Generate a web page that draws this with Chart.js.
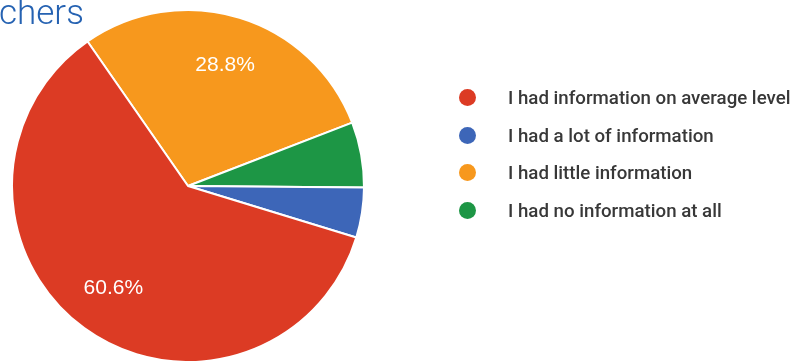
<!DOCTYPE html>
<html>
<head>
<meta charset="utf-8">
<script src="https://cdn.jsdelivr.net/npm/chart.js"></script>
<style>
  html, body { margin: 0; padding: 0; background: #fff; overflow: hidden; }
  #wrap { position: relative; width: 797px; height: 361px; }
  #pie { position: absolute; left: 0; top: 0; }
  #title {
    position: absolute; left: -1px; top: -7px;
    font-family: Roboto, "Open Sans", sans-serif; font-weight: 300;
    font-size: 35px; line-height: 40px; color: #2562b2;
  }
  #legend {
    position: absolute; left: 459px; top: 87px;
    list-style: none; margin: 0; padding: 0;
    font-family: Roboto, "Noto Sans", sans-serif; font-size: 18.7px; font-weight: 500; color: #383838;
  }
  #legend li { height: 37.5px; line-height: 22px; display: flex; align-items: flex-start; white-space: nowrap; }
  #legend .dot { width: 17px; height: 17px; border-radius: 50%; margin: 2px 32px 0 0; flex: none; }
</style>
</head>
<body>
<div id="wrap">
  <canvas id="pie" width="797" height="361"></canvas>
  <div id="title">chers</div>
  <ul id="legend"></ul>
</div>
<script>
// answers, in legend order
const categories = [
  'I had information on average level',
  'I had a lot of information',
  'I had little information',
  'I had no information at all'
];
const shares = [60.6, 4.6, 28.8, 6.0];
const colors = ['#dc3b24', '#3d66b8', '#f7981d', '#1d9645'];
// slices go clockwise in this order, starting left of 12 o'clock
const sliceOrder = [2, 3, 1, 0];

const legend = document.getElementById('legend');
categories.forEach((name, i) => {
  const li = document.createElement('li');
  li.innerHTML = '<span class="dot" style="background:' + colors[i] + '"></span><span>' + name + '</span>';
  legend.appendChild(li);
});

// percentage text inside the bigger slices
const sliceLabels = {
  id: 'sliceLabels',
  afterDatasetsDraw(chart) {
    const ctx = chart.ctx;
    const meta = chart.getDatasetMeta(0);
    const values = chart.data.datasets[0].data;
    ctx.save();
    ctx.fillStyle = '#fff';
    ctx.font = '21px "Liberation Sans", Arial, sans-serif';
    ctx.textAlign = 'center';
    ctx.textBaseline = 'middle';
    meta.data.forEach((arc, i) => {
      if (values[i] < 10) return;
      const p = arc.getProps(['x', 'y', 'startAngle', 'endAngle', 'outerRadius'], true);
      const mid = (p.startAngle + p.endAngle) / 2;
      const r = p.outerRadius * 0.72;
      ctx.fillText(values[i].toFixed(1) + '%', p.x + Math.cos(mid) * r, p.y + Math.sin(mid) * r);
    });
    ctx.restore();
  }
};

new Chart(document.getElementById('pie'), {
  type: 'pie',
  data: {
    labels: sliceOrder.map(i => categories[i]),
    datasets: [{
      data: sliceOrder.map(i => shares[i]),
      backgroundColor: sliceOrder.map(i => colors[i]),
      borderColor: '#fff',
      borderWidth: 2
    }]
  },
  options: {
    responsive: false,
    animation: false,
    rotation: -34.8,
    radius: 176,
    layout: { padding: { left: 12, top: 11, right: 433, bottom: 0 } },
    plugins: {
      legend: { display: false },
      tooltip: { enabled: false }
    }
  },
  plugins: [sliceLabels]
});
</script>
</body>
</html>
